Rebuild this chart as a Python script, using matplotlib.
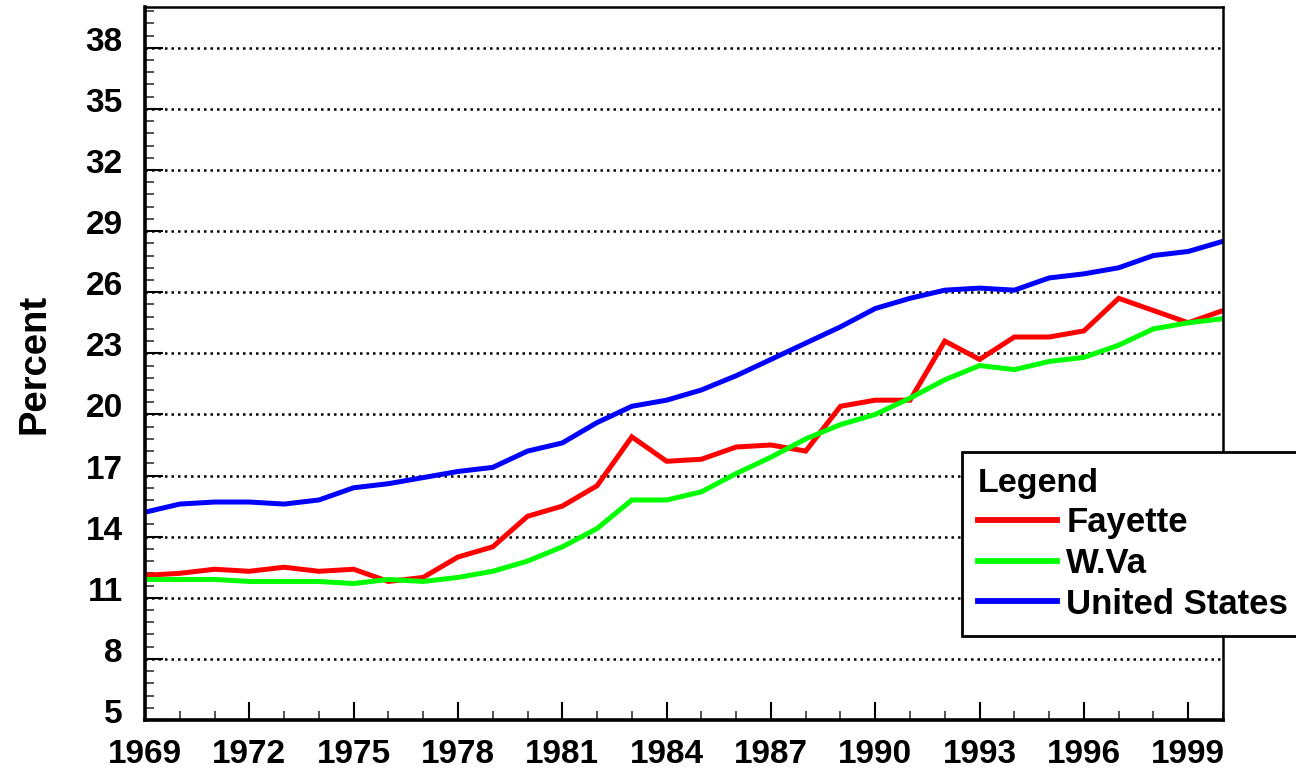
import numpy as np
import matplotlib
matplotlib.use("Agg")
import matplotlib.pyplot as plt
from matplotlib.transforms import ScaledTranslation

plt.rcParams['font.family'] = ['Liberation Sans', 'DejaVu Sans']
plt.rcParams['font.weight'] = 'bold'

years = list(range(1969, 2001))

fayette = [12.1, 12.2, 12.4, 12.3, 12.5, 12.3, 12.4, 11.8, 12.0, 13.0, 13.5,
           15.0, 15.5, 16.5, 18.9, 17.7, 17.8, 18.4, 18.5, 18.2, 20.4,
           20.7, 20.7, 23.6, 22.7, 23.8, 23.8, 24.1, 25.7, 25.1, 24.5, 25.1]
wva = [11.9, 11.9, 11.9, 11.8, 11.8, 11.8, 11.7, 11.9, 11.8, 12.0, 12.3,
       12.8, 13.5, 14.4, 15.8, 15.8, 16.2, 17.1, 17.9, 18.8, 19.5,
       20.0, 20.8, 21.7, 22.4, 22.2, 22.6, 22.8, 23.4, 24.2, 24.5, 24.7]
usa = [15.2, 15.6, 15.7, 15.7, 15.6, 15.8, 16.4, 16.6, 16.9, 17.2, 17.4,
       18.2, 18.6, 19.6, 20.4, 20.7, 21.2, 21.9, 22.7, 23.5, 24.3,
       25.2, 25.7, 26.1, 26.2, 26.1, 26.7, 26.9, 27.2, 27.8, 28.0, 28.5]

series = [("Fayette", fayette, "#ff0000"),
          ("W.Va", wva, "#00ff00"),
          ("United States", usa, "#0000ff")]

y_major = list(range(5, 39, 3))
x_major = list(range(1969, 2000, 3))

fig = plt.figure(figsize=(12.96, 7.71), dpi=100)
ax = fig.add_axes([145 / 1296, 1 - 720 / 771, (1223 - 145) / 1296, (720 - 7) / 771])

for name, vals, col in series:
    ax.plot(years, vals, color=col, lw=3.6, label=name, solid_joinstyle='miter')

ax.set_xlim(1969, 2000)
ax.set_ylim(5, 40)
ax.set_yticks(y_major)
ax.set_yticks(np.arange(5, 40.01, 0.6), minor=True)
ax.set_xticks(x_major)
ax.set_xticks(years, minor=True)

ax.grid(axis='y', which='major', color='black', linestyle=(0, (1, 1.6)), linewidth=1.8)
ax.tick_params(axis='both', which='major', direction='in', length=13, width=1.5,
               labelsize=24, pad=14)
ax.tick_params(axis='both', which='minor', direction='in', length=6.5, width=1.3,
               color='#444444')
ax.tick_params(axis='y', which='major', pad=16)
for lab in ax.get_yticklabels():
    lab.set_fontweight('bold')
    lab.set_transform(lab.get_transform() + ScaledTranslation(0, 9 / 100, fig.dpi_scale_trans))
for lab in ax.get_xticklabels():
    lab.set_fontweight('bold')

for side in ['left', 'bottom']:
    ax.spines[side].set_linewidth(2.6)
for side in ['top', 'right']:
    ax.spines[side].set_linewidth(1.8)

ax.set_ylabel("Percent", fontsize=27.5, fontweight='bold', labelpad=24)

leg = fig.legend(loc='upper left', bbox_to_anchor=(962 / 1296, 1 - 452 / 771),
                 title="Legend", fontsize=25, title_fontproperties={'size': 24.5, 'weight': 'bold'},
                 frameon=True, fancybox=False, shadow=False, framealpha=1,
                 handlelength=2.3, handletextpad=0.25, labelspacing=0.22,
                 borderpad=0.45, borderaxespad=0)
leg.get_frame().set_edgecolor('black')
leg.get_frame().set_linewidth(2)
leg._legend_box.align = "left"
for line in leg.get_lines():
    line.set_linewidth(4.2)

fig.savefig("out.png", dpi=100)
